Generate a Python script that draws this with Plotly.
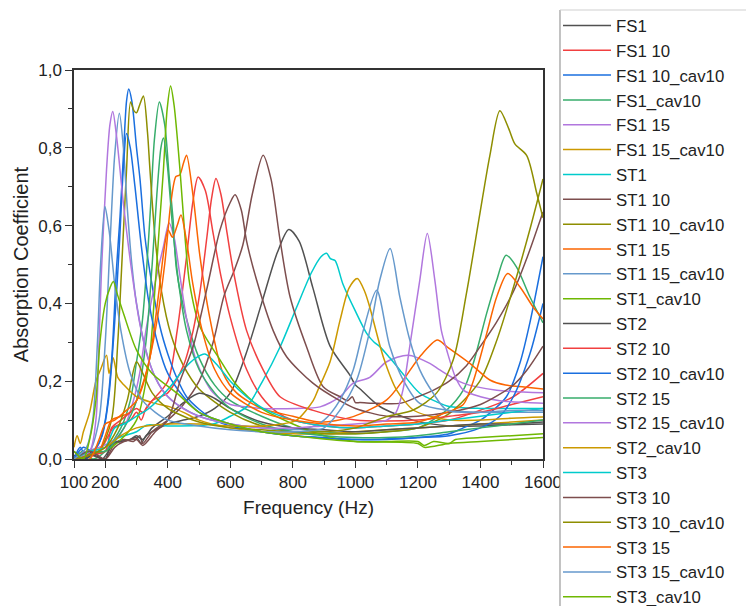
import plotly.graph_objects as go

# ---------------- data ----------------
series_names = ["FS1", "FS1 10", "FS1 10_cav10", "FS1_cav10", "FS1 15", "FS1 15_cav10",
                "ST1", "ST1 10", "ST1 10_cav10", "ST1 15", "ST1 15_cav10", "ST1_cav10",
                "ST2", "ST2 10", "ST2 10_cav10", "ST2 15", "ST2 15_cav10", "ST2_cav10",
                "ST3", "ST3 10", "ST3 10_cav10", "ST3 15", "ST3 15_cav10", "ST3_cav10"]

f_FS1 = [100, 130, 160, 190, 210, 225, 250, 280, 300, 315, 330, 350, 400, 450, 500, 550, 600, 650, 700, 750, 787, 820, 864, 919, 983, 1000, 1015, 1078, 1184, 1300, 1400, 1500, 1600]
a_FS1 = [0.01, 0.0, 0.02, 0.0, 0.02, 0.04, 0.045, 0.05, 0.055, 0.04, 0.06, 0.07, 0.09, 0.10, 0.11, 0.13, 0.17, 0.27, 0.40, 0.53, 0.59, 0.56, 0.44, 0.29, 0.215, 0.19, 0.18, 0.135, 0.10, 0.085, 0.085, 0.088, 0.09]

f_FS1_10 = [100, 130, 160, 190, 210, 225, 250, 280, 300, 315, 330, 350, 400, 430, 460, 480, 497, 520, 545, 570, 599, 652, 700, 750, 800, 900, 1000, 1100, 1200, 1300, 1398, 1505, 1600]
a_FS1_10 = [0.0, 0.02, 0.01, 0.03, 0.06, 0.08, 0.09, 0.10, 0.12, 0.10, 0.13, 0.15, 0.20, 0.33, 0.52, 0.66, 0.725, 0.69, 0.58, 0.47, 0.366, 0.23, 0.16, 0.12, 0.10, 0.085, 0.08, 0.085, 0.09, 0.10, 0.125, 0.16, 0.22]

f_FS1_10c = [100, 120, 140, 160, 180, 200, 220, 236, 247, 258, 268, 275, 285, 300, 311, 327, 343, 375, 400, 428, 460, 503, 550, 600, 700, 800, 900, 1000, 1100, 1200, 1300, 1345, 1400, 1430, 1483, 1526, 1558, 1600]
a_FS1_10c = [0.0, 0.03, 0.0, 0.02, 0.04, 0.10, 0.25, 0.49, 0.62, 0.78, 0.92, 0.951, 0.92, 0.80, 0.72, 0.57, 0.48, 0.34, 0.27, 0.21, 0.16, 0.126, 0.10, 0.085, 0.07, 0.06, 0.055, 0.05, 0.05, 0.055, 0.065, 0.08, 0.10, 0.118, 0.16, 0.246, 0.35, 0.52]

f_FS1_c = [100, 130, 160, 200, 250, 280, 300, 318, 332, 345, 357, 373, 390, 405, 417, 428, 460, 500, 550, 600, 700, 800, 900, 1000, 1100, 1200, 1292, 1345, 1377, 1420, 1452, 1482, 1515, 1558, 1600]
a_FS1_c = [0.0, 0.02, 0.0, 0.02, 0.08, 0.15, 0.25, 0.35, 0.486, 0.65, 0.82, 0.918, 0.86, 0.72, 0.614, 0.486, 0.36, 0.26, 0.19, 0.15, 0.11, 0.08, 0.07, 0.065, 0.07, 0.08, 0.126, 0.177, 0.246, 0.375, 0.46, 0.524, 0.494, 0.417, 0.35]

f_FS1_15 = [100, 140, 180, 230, 260, 290, 310, 332, 364, 386, 404, 420, 439, 460, 492, 545, 600, 652, 700, 812, 887, 951, 993, 1046, 1100, 1169, 1238, 1270, 1345, 1452, 1600]
a_FS1_15 = [0.0, 0.02, 0.03, 0.05, 0.08, 0.15, 0.22, 0.34, 0.47, 0.546, 0.607, 0.57, 0.47, 0.36, 0.25, 0.17, 0.14, 0.134, 0.13, 0.13, 0.134, 0.16, 0.195, 0.21, 0.25, 0.267, 0.246, 0.229, 0.195, 0.177, 0.17]

f_FS1_15c = [100, 110, 120, 130, 150, 170, 185, 204, 212, 225, 240, 260, 300, 350, 407, 450, 500, 600, 700, 800, 900, 1000, 1100, 1200, 1300, 1400, 1500, 1600]
a_FS1_15c = [0.03, 0.06, 0.04, 0.07, 0.12, 0.20, 0.23, 0.267, 0.22, 0.26, 0.21, 0.19, 0.16, 0.145, 0.134, 0.12, 0.10, 0.08, 0.07, 0.065, 0.065, 0.07, 0.075, 0.08, 0.085, 0.09, 0.095, 0.10]

f_ST1 = [100, 150, 200, 230, 300, 332, 400, 545, 600, 652, 705, 759, 812, 860, 890, 908, 920, 935, 960, 1000, 1036, 1060, 1078, 1110, 1142, 1206, 1260, 1300, 1400, 1500, 1600]
a_ST1 = [0.0, 0.02, 0.02, 0.05, 0.07, 0.087, 0.085, 0.09, 0.11, 0.134, 0.203, 0.288, 0.39, 0.48, 0.52, 0.529, 0.515, 0.51, 0.45, 0.38, 0.323, 0.30, 0.289, 0.26, 0.229, 0.169, 0.147, 0.135, 0.13, 0.13, 0.13]

f_ST1_10 = [100, 150, 200, 230, 260, 290, 310, 320, 350, 400, 450, 500, 545, 580, 615, 640, 670, 705, 730, 759, 791, 844, 897, 951, 975, 990, 1000, 1015, 1068, 1142, 1200, 1250, 1300, 1355, 1400, 1450, 1505, 1550, 1600]
a_ST1_10 = [0.0, 0.01, 0.0, 0.04, 0.05, 0.045, 0.06, 0.04, 0.07, 0.10, 0.14, 0.20, 0.30, 0.42, 0.49, 0.55, 0.68, 0.781, 0.72, 0.563, 0.417, 0.288, 0.186, 0.16, 0.15, 0.16, 0.145, 0.145, 0.143, 0.143, 0.16, 0.177, 0.20, 0.24, 0.29, 0.35, 0.43, 0.52, 0.635]

f_ST1_10c = [100, 150, 180, 220, 240, 252, 268, 281, 292, 300, 310, 322, 335, 343, 359, 380, 410, 450, 500, 600, 700, 800, 900, 1000, 1100, 1200, 1302, 1398, 1450, 1505, 1558, 1600]
a_ST1_10c = [0.0, 0.01, 0.02, 0.10, 0.30, 0.486, 0.743, 0.918, 0.895, 0.89, 0.91, 0.933, 0.84, 0.743, 0.571, 0.43, 0.32, 0.24, 0.18, 0.12, 0.085, 0.07, 0.065, 0.065, 0.07, 0.08, 0.118, 0.20, 0.30, 0.44, 0.59, 0.72]

f_ST1_15 = [100, 150, 180, 200, 220, 250, 280, 300, 330, 360, 390, 410, 426, 438, 450, 460, 481, 503, 535, 577, 620, 700, 800, 887, 993, 1100, 1153, 1206, 1262, 1292, 1366, 1430, 1480, 1540, 1600]
a_ST1_15 = [0.0, 0.01, 0.02, 0.06, 0.10, 0.11, 0.12, 0.15, 0.22, 0.33, 0.50, 0.66, 0.726, 0.73, 0.76, 0.781, 0.675, 0.52, 0.36, 0.22, 0.17, 0.13, 0.11, 0.095, 0.109, 0.152, 0.203, 0.263, 0.306, 0.289, 0.246, 0.203, 0.19, 0.185, 0.18]

f_ST1_15c = [100, 150, 180, 200, 215, 230, 245, 258, 270, 285, 300, 330, 360, 400, 450, 500, 600, 700, 800, 850, 900, 951, 993, 1025, 1068, 1110, 1153, 1206, 1300, 1400, 1500, 1600]
a_ST1_15c = [0.0, 0.02, 0.10, 0.30, 0.55, 0.78, 0.889, 0.80, 0.65, 0.50, 0.40, 0.28, 0.21, 0.16, 0.13, 0.11, 0.09, 0.08, 0.075, 0.08, 0.10, 0.152, 0.229, 0.33, 0.434, 0.289, 0.203, 0.143, 0.125, 0.12, 0.12, 0.12]

f_ST1_c = [100, 150, 200, 250, 300, 340, 360, 375, 386, 398, 409, 420, 439, 455, 470, 503, 567, 620, 700, 800, 900, 1000, 1100, 1200, 1220, 1250, 1300, 1320, 1400, 1500, 1600]
a_ST1_c = [0.0, 0.01, 0.02, 0.05, 0.10, 0.25, 0.45, 0.62, 0.743, 0.90, 0.959, 0.91, 0.743, 0.571, 0.45, 0.34, 0.255, 0.19, 0.13, 0.09, 0.06, 0.045, 0.045, 0.045, 0.035, 0.045, 0.04, 0.05, 0.055, 0.06, 0.065]

f_ST2 = [100, 130, 160, 200, 220, 250, 280, 300, 320, 350, 400, 450, 500, 540, 600, 650, 700, 800, 900, 1000, 1100, 1200, 1300, 1400, 1500, 1600]
a_ST2 = [0.02, 0.0, 0.01, 0.0, 0.04, 0.045, 0.05, 0.06, 0.05, 0.08, 0.11, 0.145, 0.169, 0.16, 0.13, 0.11, 0.095, 0.08, 0.075, 0.07, 0.075, 0.08, 0.085, 0.09, 0.09, 0.095]

f_ST2_10 = [100, 150, 200, 220, 250, 280, 300, 320, 350, 400, 450, 481, 503, 525, 540, 554, 570, 588, 609, 652, 705, 759, 865, 1000, 1200, 1300, 1400, 1500, 1600]
a_ST2_10 = [0.0, 0.01, 0.02, 0.08, 0.10, 0.12, 0.13, 0.12, 0.15, 0.17, 0.24, 0.33, 0.43, 0.57, 0.67, 0.721, 0.68, 0.589, 0.486, 0.33, 0.229, 0.16, 0.125, 0.10, 0.10, 0.11, 0.12, 0.14, 0.16]

f_ST2_10c = [100, 130, 160, 190, 210, 230, 245, 258, 268, 280, 295, 315, 340, 370, 400, 450, 500, 600, 700, 800, 1000, 1200, 1300, 1400, 1462, 1505, 1558, 1600]
a_ST2_10c = [0.0, 0.03, 0.02, 0.06, 0.15, 0.35, 0.55, 0.75, 0.837, 0.80, 0.70, 0.55, 0.40, 0.29, 0.22, 0.16, 0.12, 0.09, 0.07, 0.06, 0.05, 0.055, 0.06, 0.08, 0.11, 0.16, 0.27, 0.40]

f_ST2_15 = [100, 150, 200, 260, 300, 330, 350, 365, 378, 386, 398, 415, 435, 460, 500, 550, 600, 700, 800, 900, 1000, 1100, 1200, 1300, 1400, 1500, 1600]
a_ST2_15 = [0.0, 0.02, 0.02, 0.08, 0.15, 0.30, 0.50, 0.68, 0.80, 0.825, 0.76, 0.60, 0.45, 0.33, 0.23, 0.17, 0.13, 0.09, 0.07, 0.06, 0.055, 0.055, 0.06, 0.07, 0.08, 0.09, 0.10]

f_ST2_15c = [100, 150, 170, 180, 188, 204, 215, 224, 236, 258, 284, 310, 340, 380, 430, 500, 600, 700, 800, 900, 1000, 1100, 1130, 1152, 1174, 1206, 1230, 1254, 1275, 1292, 1320, 1345, 1400, 1462, 1550, 1600]
a_ST2_15c = [0.0, 0.02, 0.10, 0.30, 0.486, 0.743, 0.86, 0.893, 0.83, 0.657, 0.486, 0.35, 0.25, 0.18, 0.14, 0.11, 0.09, 0.08, 0.08, 0.085, 0.09, 0.10, 0.12, 0.177, 0.29, 0.46, 0.58, 0.46, 0.33, 0.28, 0.21, 0.177, 0.16, 0.15, 0.145, 0.143]

f_ST2_c = [100, 150, 200, 250, 300, 400, 500, 600, 700, 765, 812, 865, 880, 919, 951, 980, 1006, 1030, 1046, 1089, 1132, 1185, 1238, 1300, 1400, 1500, 1600]
a_ST2_c = [0.0, 0.02, 0.03, 0.06, 0.08, 0.09, 0.09, 0.085, 0.085, 0.09, 0.10, 0.15, 0.177, 0.25, 0.357, 0.44, 0.464, 0.43, 0.39, 0.263, 0.177, 0.126, 0.11, 0.10, 0.10, 0.105, 0.108]

f_ST3 = [100, 150, 200, 230, 260, 300, 340, 407, 450, 490, 519, 560, 600, 652, 705, 800, 900, 1000, 1100, 1200, 1300, 1400, 1500, 1600]
a_ST3 = [0.0, 0.02, 0.03, 0.08, 0.09, 0.11, 0.13, 0.185, 0.23, 0.26, 0.27, 0.24, 0.20, 0.16, 0.13, 0.10, 0.085, 0.08, 0.085, 0.09, 0.10, 0.11, 0.12, 0.13]

f_ST3_10 = [100, 150, 200, 230, 260, 300, 320, 360, 400, 439, 481, 524, 567, 600, 615, 635, 652, 684, 737, 780, 864, 950, 1000, 1100, 1200, 1300, 1400, 1505, 1550, 1600]
a_ST3_10 = [0.0, 0.02, 0.0, 0.03, 0.045, 0.05, 0.035, 0.07, 0.10, 0.20, 0.289, 0.434, 0.589, 0.66, 0.679, 0.64, 0.56, 0.46, 0.33, 0.263, 0.195, 0.15, 0.13, 0.11, 0.11, 0.12, 0.14, 0.19, 0.23, 0.29]

f_ST3_10c = [100, 150, 200, 240, 270, 300, 320, 350, 400, 450, 500, 600, 700, 800, 900, 1000, 1100, 1185, 1260, 1313, 1355, 1398, 1430, 1462, 1490, 1510, 1548, 1580, 1600]
a_ST3_10c = [0.0, 0.01, 0.03, 0.08, 0.15, 0.25, 0.22, 0.17, 0.13, 0.11, 0.095, 0.08, 0.075, 0.07, 0.07, 0.08, 0.109, 0.126, 0.17, 0.255, 0.425, 0.63, 0.78, 0.895, 0.85, 0.81, 0.78, 0.683, 0.62]

f_ST3_15 = [100, 150, 180, 200, 230, 260, 300, 340, 370, 390, 401, 415, 430, 442, 460, 480, 510, 550, 600, 700, 800, 900, 1000, 1100, 1200, 1292, 1345, 1377, 1420, 1452, 1487, 1526, 1569, 1600]
a_ST3_15 = [0.0, 0.0, 0.05, 0.09, 0.10, 0.12, 0.15, 0.25, 0.42, 0.55, 0.589, 0.57, 0.60, 0.627, 0.56, 0.45, 0.33, 0.23, 0.17, 0.12, 0.10, 0.09, 0.085, 0.09, 0.095, 0.12, 0.14, 0.20, 0.323, 0.417, 0.477, 0.443, 0.39, 0.36]

f_ST3_15c = [100, 140, 160, 175, 185, 199, 210, 215, 230, 250, 280, 320, 360, 400, 500, 600, 700, 800, 900, 951, 1004, 1046, 1078, 1111, 1142, 1174, 1206, 1249, 1292, 1400, 1500, 1600]
a_ST3_15c = [0.0, 0.03, 0.10, 0.30, 0.50, 0.649, 0.60, 0.57, 0.45, 0.33, 0.22, 0.15, 0.12, 0.10, 0.085, 0.075, 0.07, 0.07, 0.08, 0.126, 0.203, 0.33, 0.46, 0.541, 0.417, 0.306, 0.229, 0.169, 0.126, 0.12, 0.125, 0.125]

f_ST3_c = [100, 130, 150, 170, 183, 200, 215, 226, 240, 260, 300, 350, 428, 500, 600, 700, 800, 1000, 1200, 1220, 1300, 1400, 1500, 1600]
a_ST3_c = [0.02, 0.0, 0.05, 0.15, 0.30, 0.40, 0.44, 0.456, 0.42, 0.37, 0.28, 0.22, 0.17, 0.12, 0.09, 0.07, 0.06, 0.045, 0.04, 0.03, 0.04, 0.045, 0.05, 0.055]

series_freqs = [f_FS1, f_FS1_10, f_FS1_10c, f_FS1_c, f_FS1_15, f_FS1_15c,
                f_ST1, f_ST1_10, f_ST1_10c, f_ST1_15, f_ST1_15c, f_ST1_c,
                f_ST2, f_ST2_10, f_ST2_10c, f_ST2_15, f_ST2_15c, f_ST2_c,
                f_ST3, f_ST3_10, f_ST3_10c, f_ST3_15, f_ST3_15c, f_ST3_c]
series_vals = [a_FS1, a_FS1_10, a_FS1_10c, a_FS1_c, a_FS1_15, a_FS1_15c,
               a_ST1, a_ST1_10, a_ST1_10c, a_ST1_15, a_ST1_15c, a_ST1_c,
               a_ST2, a_ST2_10, a_ST2_10c, a_ST2_15, a_ST2_15c, a_ST2_c,
               a_ST3, a_ST3_10, a_ST3_10c, a_ST3_15, a_ST3_15c, a_ST3_c]

x_tick_vals = [100, 200, 400, 600, 800, 1000, 1200, 1400, 1600]

# ---------------- style ----------------
palette = ["#515151", "#F14040", "#1A6FDF", "#37AD6B", "#B177DE", "#CC9900",
           "#00CBCC", "#7D4E4E", "#8E8E00", "#FB6501", "#6699CC", "#6FB802"]
FONT = "Liberation Sans, Arial, sans-serif"

# the page body adds an 8 px offset, so positions below are 8 px up/left of target
L, T, PW, PH = 66, 62, 469, 389
BOX_X = 552  # legend box left edge (figure px)

fig = go.Figure()
for i, (name, fx, ay) in enumerate(zip(series_names, series_freqs, series_vals)):
    fig.add_trace(go.Scatter(
        x=fx, y=ay, name=name, mode="lines",
        line=dict(color=palette[i % len(palette)], width=1.5, shape="spline", smoothing=0.8),
    ))

axis_common = dict(showline=True, linecolor="#333333", linewidth=1.5, mirror=True,
                   ticks="outside", ticklen=7, tickwidth=1.2, tickcolor="#333333",
                   showgrid=False, zeroline=False, automargin=False,
                   tickfont=dict(family=FONT, size=17, color="#222222"))

px_x = lambda p: (p - L) / PW
px_y = lambda p: 1 + (T - p) / PH

fig.update_layout(
    width=754, height=606,
    margin=dict(l=L, r=754 - L - PW, t=T, b=606 - T - PH, autoexpand=False),
    paper_bgcolor="white", plot_bgcolor="white",
    separators=",.",
    font=dict(family=FONT, color="#222222"),
    xaxis=dict(range=[100, 1600], tickvals=x_tick_vals,
               minor=dict(dtick=100, tick0=100, ticks="outside", ticklen=4, tickcolor="#333333"),
               title=dict(text="Frequency (Hz)", font=dict(family=FONT, size=19, color="#222222"), standoff=10),
               **axis_common),
    yaxis=dict(range=[0, 1], dtick=0.2, tick0=0, tickformat=".1f",
               minor=dict(dtick=0.1, tick0=0, ticks="outside", ticklen=4, tickcolor="#333333"),
               title=dict(text="Absorption Coefficient", font=dict(family=FONT, size=20, color="#222222"), standoff=4),
               **axis_common),
    legend=dict(xref="container", yref="container", x=550 / 754, y=1.0,
                xanchor="left", yanchor="top", bgcolor="rgba(0,0,0,0)", borderwidth=0,
                font=dict(family=FONT, size=16.8, color="#222222"),
                itemwidth=48, tracegroupgap=0, maxheight=1000),
    shapes=[
        # white legend panel (covers the part of the last tick label that runs under it)
        dict(type="rect", xref="paper", yref="paper", layer="above",
             x0=px_x(BOX_X), x1=px_x(800), y0=px_y(2), y1=px_y(700),
             fillcolor="white", line=dict(width=0)),
        dict(type="line", xref="paper", yref="paper", layer="above",
             x0=px_x(BOX_X), x1=px_x(BOX_X), y0=px_y(2), y1=px_y(700),
             line=dict(color="#9a9a9a", width=1.2)),
        dict(type="line", xref="paper", yref="paper", layer="above",
             x0=px_x(BOX_X), x1=px_x(800), y0=px_y(2), y1=px_y(2),
             line=dict(color="#cfcfcf", width=1)),
    ],
)

fig.write_html("out.html")
